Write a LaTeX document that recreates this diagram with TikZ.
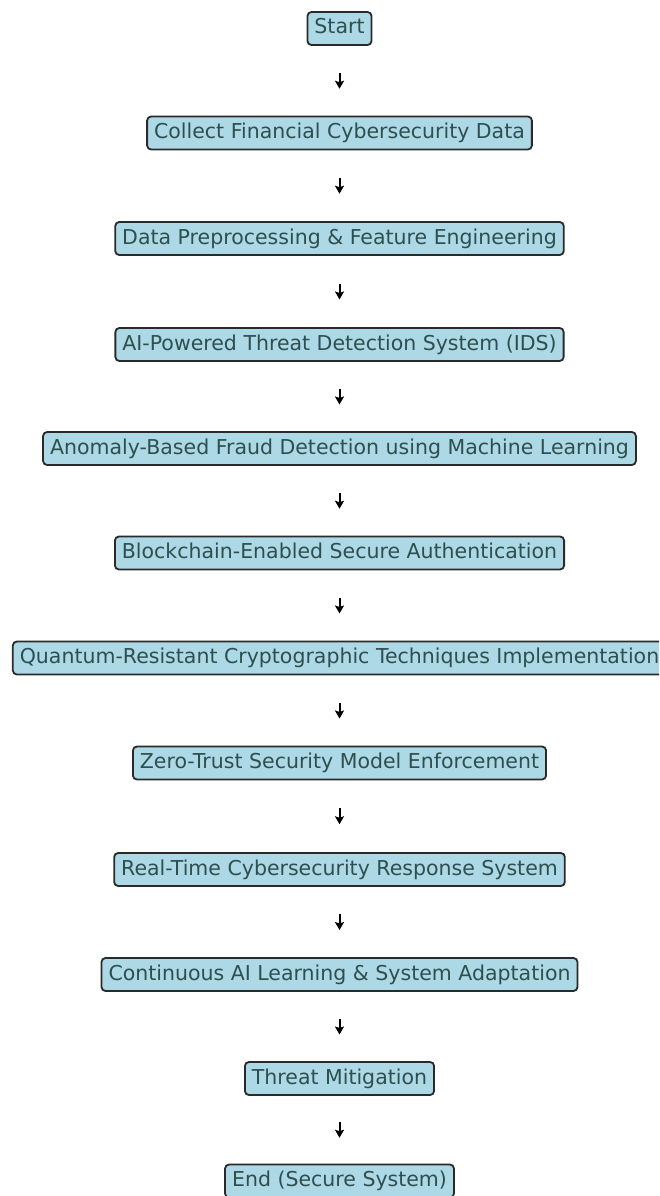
\documentclass[tikz,border=0pt]{standalone}
\usepackage{fontspec}
\setmainfont{DejaVu Sans}
\usetikzlibrary{arrows.meta}
\definecolor{boxfill}{HTML}{ADD8E6}
\definecolor{boxtext}{HTML}{2F4F4F}
\definecolor{boxline}{HTML}{2A2A2A}
\tikzset{
  stepbox/.style={draw=boxline, line width=1.8pt, fill=boxfill, rounded corners=4pt,
    text=boxtext, font=\fontsize{20.5}{24}\selectfont, inner xsep=7pt, inner ysep=0pt,
    minimum height=33pt, text height=15.5pt, text depth=4.5pt, anchor=center},
  flowarrow/.style={-{Stealth[length=8pt,width=9pt,inset=1.5pt]}, line width=2pt, black}
}
\begin{document}
\begin{tikzpicture}[x=1pt,y=-1pt]
\useasboundingbox (0,0) rectangle (659,1196);
\clip (0,0) rectangle (659,1196);
\fill[white] (0,0) rectangle (659,1196);
\node[stepbox] (n0) at (339.5,28.5) {Start};
\node[stepbox] (n1) at (339.5,133) {Collect Financial Cybersecurity Data};
\node[stepbox] (n2) at (339.5,238.5) {Data Preprocessing \& Feature Engineering};
\node[stepbox] (n3) at (339.5,344.5) {AI-Powered Threat Detection System (IDS)};
\node[stepbox] (n4) at (339.5,448.5) {Anomaly-Based Fraud Detection using Machine Learning};
\node[stepbox] (n5) at (339.5,553) {Blockchain-Enabled Secure Authentication};
\node[stepbox] (n6) at (339.5,658) {Quantum-Resistant Cryptographic Techniques Implementation};
\node[stepbox] (n7) at (339.5,763) {Zero-Trust Security Model Enforcement};
\node[stepbox] (n8) at (339.5,869.5) {Real-Time Cybersecurity Response System};
\node[stepbox] (n9) at (339.5,974.5) {Continuous AI Learning \& System Adaptation};
\node[stepbox] (n10) at (339.5,1078.5) {Threat Mitigation};
\node[stepbox] (n11) at (339.5,1181) {End (Secure System)};
\foreach \a/\b in {n0/n1,n1/n2,n2/n3,n3/n4,n4/n5,n5/n6,n6/n7,n7/n8,n8/n9,n9/n10,n10/n11}{
  \path (\a.south) -- (\b.north) coordinate[pos=0.5] (m);
  \draw[flowarrow] ([yshift=8pt]m) -- ([yshift=-8pt]m);
}
\end{tikzpicture}
\end{document}
